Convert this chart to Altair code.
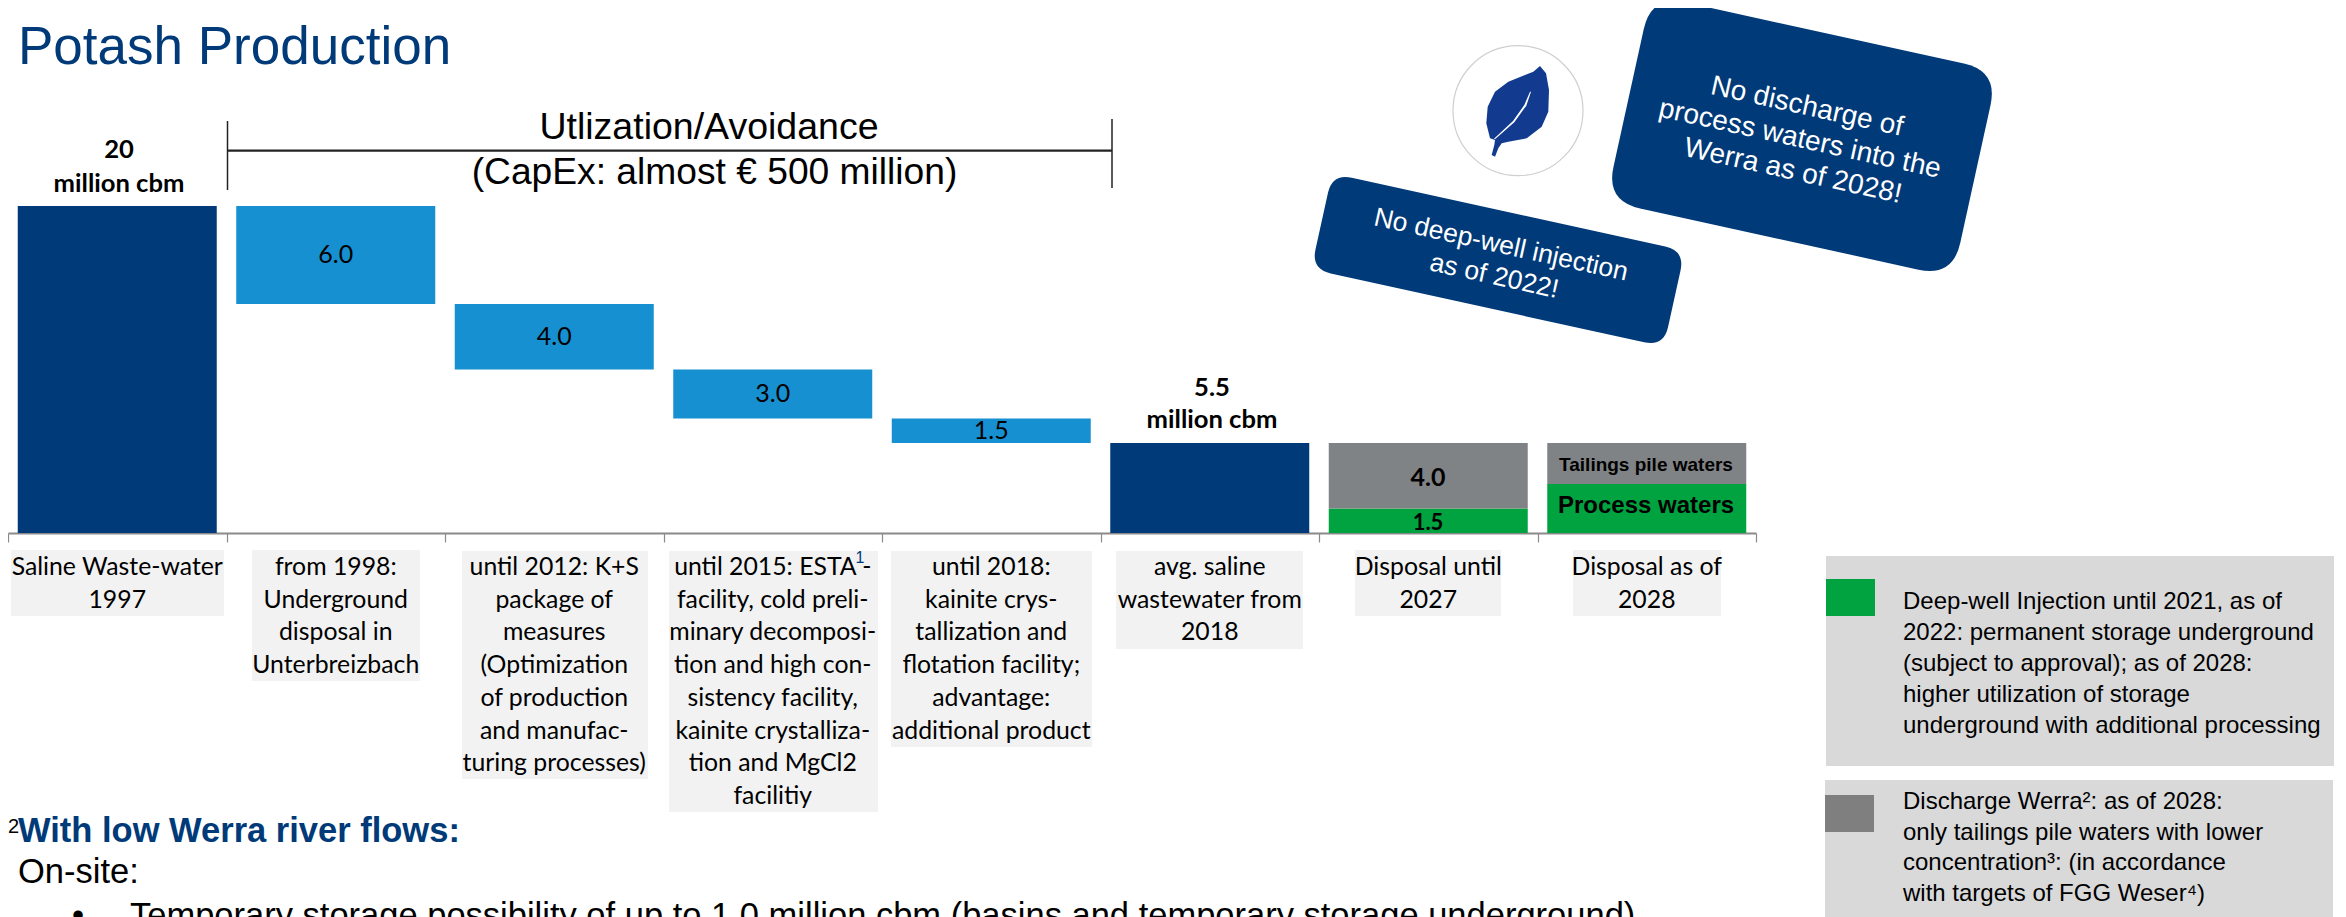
import altair as alt
import pandas as pd

# ---- data -----------------------------------------------------------------
categories = [
    "Saline Waste-water\n1997",
    "from 1998:\nUnderground\ndisposal in\nUnterbreizbach",
    "until 2012: K+S\npackage of\nmeasures\n(Optimization\nof production\nand manufac-\nturing processes)",
    "until 2015: ESTA   -\nfacility, cold preli-\nminary decomposi-\ntion and high con-\nsistency facility,\nkainite crystalliza-\ntion and MgCl2\nfacilitiy",
    "until 2018:\nkainite crys-\ntallization and\nflotation facility;\nadvantage:\nadditional product",
    "avg. saline\nwastewater from\n2018",
    "Disposal until\n2027",
    "Disposal as of\n2028",
]
bar_cat = [0, 1, 2, 3, 4, 5, 6, 6, 7, 7]
bar_low = [0, 14.0, 10.0, 7.0, 5.5, 0, 0, 1.5, 0, 3.0]
bar_high = [20, 20.0, 14.0, 10.0, 7.0, 5.5, 1.5, 5.5, 3.0, 5.5]
bar_kind = ["total", "step", "step", "step", "step", "total", "green", "gray", "green", "gray"]
kind_names = ["total", "step", "green", "gray"]
kind_colors = ["#003a78", "#1690d0", "#00a33f", "#808386"]

step_labels = ["6.0", "4.0", "3.0", "1.5"]
step_cat = [1, 2, 3, 4]
step_mid = [17.0, 12.0, 8.5, 6.25]

NAVY = "#003a78"
BODY = "Liberation Sans"
CAL = "Lato"
W, H = 2330, 909

blank = pd.DataFrame({"a": [0]})


def px(v):
    return alt.value(v - 8)


def rect(x0, y0, x1, y1, color):
    return alt.Chart(blank).mark_rect(color=color).encode(x=px(x0), x2=px(x1), y=px(y0), y2=px(y1))


def rule(x0, y0, x1, y1, color="#222222", width=1.5):
    return alt.Chart(blank).mark_rule(color=color, strokeWidth=width).encode(
        x=px(x0), x2=px(x1), y=px(y0), y2=px(y1))


def txt(s, x, y, size, color="black", font=BODY, bold=False, align="center",
        baseline="alphabetic", angle=0, lh=None):
    kw = {}
    if lh:
        kw["lineHeight"] = lh
    if bold:
        kw["fontWeight"] = "bold"
    if angle:
        kw["angle"] = angle
    return alt.Chart(pd.DataFrame({"t": [s]})).mark_text(
        font=font, fontSize=size, color=color, align=align, baseline=baseline,
        lineBreak="\n", **kw).encode(x=px(x), y=px(y), text="t:N")


def shape(path, x, y, color, stroke=None, filled=True):
    kw = dict(shape=path, size=4, opacity=1, filled=filled)
    if filled:
        kw.update(fill=color, strokeWidth=0)
    else:
        kw.update(fill="white", fillOpacity=1, stroke=stroke, strokeWidth=1.2)
    return alt.Chart(blank).mark_point(**kw).encode(x=px(x), y=px(y))


def rrect_path(w, h, r, deg):
    import math
    a = math.radians(deg)
    c, s = math.cos(a), math.sin(a)

    def p(u, v):
        return f"{u * c - v * s:.2f},{u * s + v * c:.2f}"
    hw, hh = w / 2, h / 2
    return (f"M{p(-hw + r, -hh)}L{p(hw - r, -hh)}Q{p(hw, -hh)} {p(hw, -hh + r)}"
            f"L{p(hw, hh - r)}Q{p(hw, hh)} {p(hw - r, hh)}"
            f"L{p(-hw + r, hh)}Q{p(-hw, hh)} {p(-hw, hh - r)}"
            f"L{p(-hw, -hh + r)}Q{p(-hw, -hh)} {p(-hw + r, -hh)}Z")


def poly_path(points, cx, cy):
    pts = [f"{1445 + a / 3 - cx:.1f},{40 + b / 3 - cy:.1f}" for a, b in points]
    return "M" + "L".join(pts) + "Z"


leaf_outline = [(285, 78), (303, 100), (312, 150), (310, 215), (290, 260), (245, 295), (190, 305),
                (170, 310), (160, 325), (150, 350), (140, 345), (148, 315), (150, 300), (135, 295),
                (124, 250), (128, 200), (150, 155), (190, 125), (240, 105), (265, 95)]
leaf_vein = [(258, 155), (244, 197), (208, 247), (150, 298), (147, 296), (204, 243), (238, 195), (255, 155)]

x_scale = alt.Scale(domain=categories, range=[0, 1748], paddingInner=0, paddingOuter=0)
y_scale = alt.Scale(domain=[0, 20], range=[525, 198], nice=False, zero=False)
x_axis = alt.Axis(title=None, labels=False, tickBand="extent", tickSize=9, tickWidth=1.2,
                  tickColor="#8a8a8a", domainColor="#8a8a8a", domainWidth=2, grid=False,
                  offset=-384, orient="bottom")
X = alt.X("cat:N", scale=x_scale, axis=x_axis, sort=categories)
Y = alt.Y("low:Q", scale=y_scale, axis=None)

bars_df = pd.DataFrame({"cat": [categories[i] for i in bar_cat], "low": bar_low,
                        "high": bar_high, "kind": bar_kind})
bars = alt.Chart(bars_df).mark_bar(stroke=None, size=199).encode(
    x=X,
    y=Y, y2="high:Q",
    color=alt.Color("kind:N", scale=alt.Scale(domain=kind_names, range=kind_colors), legend=None),
)

step_text = alt.Chart(pd.DataFrame({"cat": [categories[i] for i in step_cat], "low": step_mid,
                                    "t": step_labels})).mark_text(
    font=CAL, fontSize=25, color="black", baseline="middle").encode(x=X, y=Y, text="t:N")

cat_text = alt.Chart(pd.DataFrame({"cat": categories})).mark_text(
    font=CAL, fontSize=24.8, color="black", baseline="top", lineBreak="\n", lineHeight=32.7).encode(
    x=X, y=alt.value(547), text="cat:N")

label_boxes = [
    (11, 550, 224, 616), (252, 550, 420, 681), (462, 551, 648, 779), (669, 551, 878, 812),
    (891, 551, 1092, 747), (1116, 551, 1303, 649), (1355, 550, 1501, 616), (1573, 550, 1721, 616),
]

layers = [rect(*b, "#f2f2f2") for b in label_boxes]
layers += [bars, step_text, cat_text]

# bracket
layers += [
    rule(227.5, 121, 227.5, 190), rule(1112, 119, 1112, 188), rule(228, 150.7, 1112, 150.7, width=2.2),
    txt("Utlization/Avoidance", 709, 127.5, 37.5, baseline="middle"),
    txt("(CapEx: almost € 500 million)", 714.5, 173, 37.2, baseline="middle"),
    txt("Potash Production", 18, 64, 53, color=NAVY, align="left"),
    txt("20\nmillion cbm", 119, 150, 25.6, font=CAL, bold=True, baseline="middle", lh=34),
    txt("5.5\nmillion cbm", 1212, 387.5, 25.6, font=CAL, bold=True, baseline="middle", lh=32),
    txt("4.0", 1428, 478, 25, font=CAL, bold=True, baseline="middle"),
    txt("1.5", 1428, 523, 22, font=CAL, bold=True, baseline="middle"),
    txt("Tailings pile waters", 1646, 465, 19, bold=True, baseline="middle"),
    txt("Process waters", 1646, 506, 24, bold=True, baseline="middle"),
    txt("1", 860, 558, 16, color=NAVY, baseline="middle"),
]

# call-outs
layers += [
    shape(rrect_path(355, 211, 35, 12.4), 1802, 136, NAVY),
    shape(rrect_path(361, 98, 20, 12.4), 1498, 260, NAVY),
    txt("No discharge of\nprocess waters into the\nWerra as of 2028!", 1807, 107, 28, color="white",
        baseline="middle", angle=12.4, lh=33),
    txt("No deep-well injection\nas of 2022!", 1501, 245, 26.5, color="white",
        baseline="middle", angle=12.4, lh=32),
]

# leaf icon
circle_path = ("M65,0A65,65 0 1,1 -65,0A65,65 0 1,1 65,0Z")
layers += [
    shape(circle_path, 1518, 110.7, "white", stroke="#cfcfcf", filled=False),
    shape(poly_path(leaf_outline, 1518, 110.7), 1518, 110.7, "#123b8f"),
    shape(poly_path(leaf_vein, 1518, 110.7), 1518, 110.7, "white"),
]

# legend panels
legend_a = ("Deep-well Injection until 2021, as of\n2022: permanent storage underground\n"
            "(subject to approval); as of 2028:\nhigher utilization of storage\n"
            "underground with additional processing")
legend_b = ("Discharge Werra²: as of 2028:\nonly tailings pile waters with lower\n"
            "concentration³: (in accordance\nwith targets of FGG Weser⁴)")
layers += [
    rect(1826, 556, 2334, 766, "#d9d9d9"),
    rect(1826, 579, 1875, 616, "#00a33f"),
    rect(1825, 780, 2333, 917, "#d9d9d9"),
    rect(1825, 795, 1874, 832, "#7f7f7f"),
    txt(legend_a, 1903, 602, 24, align="left", baseline="middle", lh=31),
    txt(legend_b, 1903, 802, 24, align="left", baseline="middle", lh=30.7),
]

# notes under the chart
layers += [
    txt("2", 8, 833, 20, align="left"),
    txt("With low Werra river flows:", 18, 842, 34.5, color=NAVY, bold=True, align="left"),
    txt("On-site:", 18, 883, 34.5, align="left"),
    txt("•", 78, 927, 34.5, align="center"),
    txt("Temporary storage possibility of up to 1.0 million cbm (basins and temporary storage underground)",
        130, 927, 34.5, align="left"),
]

chart = alt.layer(*layers).resolve_scale(color="independent").properties(
    width=W, height=H, padding=0, background="white",
    autosize=alt.AutoSizeParams(type="none", contains="content"),
).configure_view(stroke=None)

chart.save("out.html", embed_options={"renderer": "svg", "actions": False})
